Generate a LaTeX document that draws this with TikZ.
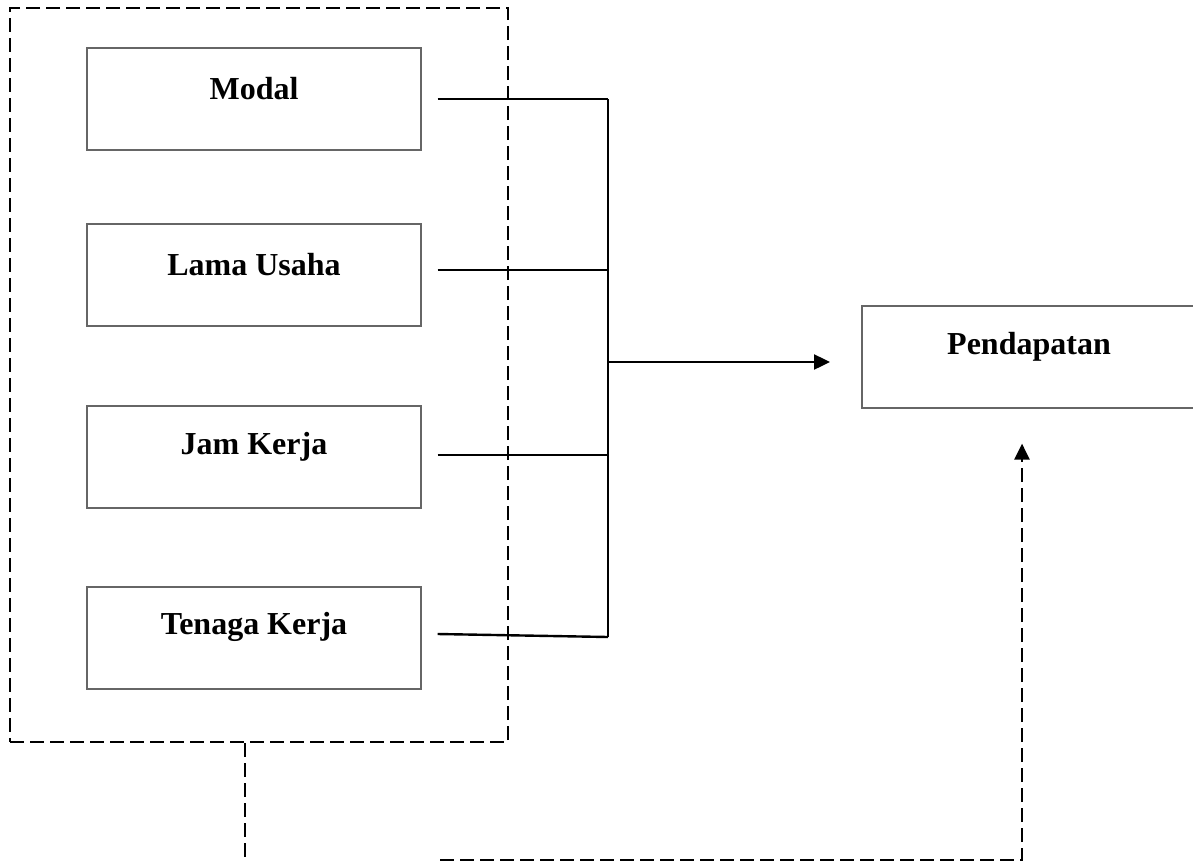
\documentclass[tikz,border=0pt]{standalone}
\usepackage{fontspec}
\setmainfont{Liberation Serif}
\usetikzlibrary{arrows.meta}

\begin{document}
\begin{tikzpicture}[x=0.5pt,y=-0.5pt]
        \useasboundingbox (0,0) rectangle (1193,862);
        \tikzset{labeltext/.style = {font=\fontsize{16}{19}\selectfont\bfseries,
                                     anchor=center, yshift=-20.5pt},
                 varbox/.style = {rectangle, draw=black!60, line width=0.6pt,
                                  minimum width=167pt, minimum height=51pt,
                                  inner sep=0pt, label={[labeltext]north:#1}},
                 putus/.style = {line width=1.2pt, dash pattern=on 7pt off 3pt}}

        \node[draw, putus, minimum width=249pt, minimum height=367pt,
              inner sep=0pt] (faktor) at (259,375) {};

        \begin{scope}
            \node[varbox=Modal]        (modal)  at (254,99)  {};
            \node[varbox=Lama Usaha]   (lama)   at (254,275) {};
            \node[varbox=Jam Kerja]    (jam)    at (254,457) {};
            \node[varbox=Tenaga Kerja] (tenaga) at (254,638) {};

            \node[varbox=Pendapatan]   (pendapatan) at (1029,357) {};
        \end{scope}

        \coordinate (bus top) at (608,99);
        \coordinate (bus mid) at (608,362);
        \coordinate (bus bot) at (608,637);
        \coordinate (tip)     at (830,362);
        \coordinate (turun)   at (245,862);
        \coordinate (kiri)    at (440,860);
        \coordinate (sudut)   at (1022,860);

        \begin{scope}[>={Triangle[length=8pt,width=7.5pt]}, line width=1.2pt]
            \draw (bus top) -- (bus bot);
            \draw ([xshift=8pt]modal.east) -- (modal.east -| bus top);
            \draw ([xshift=8pt,yshift=2.5pt]lama.east) -- ([yshift=2.5pt]lama.east -| bus top);
            \draw ([xshift=8pt,yshift=1pt]jam.east) -- ([yshift=1pt]jam.east -| bus top);
            \draw ([xshift=8pt,yshift=2pt]tenaga.east) -- (bus bot);
            \draw [->] (bus mid) -- (tip);

            \draw [putus] (faktor.south -| turun) -- (turun);
            \draw [putus, ->] (kiri) -- (sudut) -- ([yshift=-17.5pt]pendapatan.south -| sudut);
        \end{scope}
\end{tikzpicture}
\end{document}
